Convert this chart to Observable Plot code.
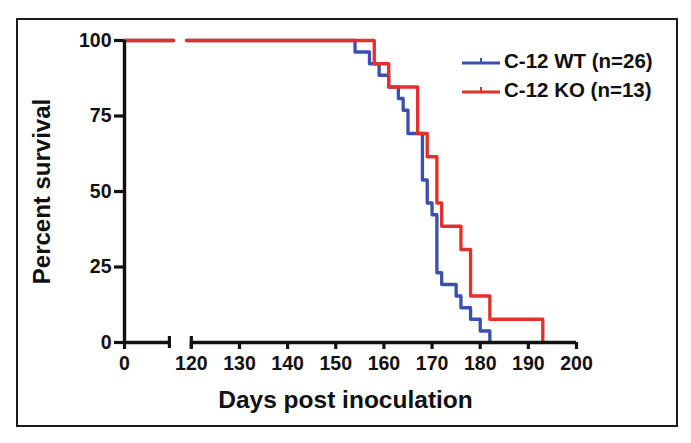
<!DOCTYPE html>
<html>
<head>
<meta charset="utf-8">
<script src="https://cdn.jsdelivr.net/npm/d3@7"></script>
<script src="https://cdn.jsdelivr.net/npm/@observablehq/plot@0.6"></script>
<style>
  html, body { margin: 0; padding: 0; background: #fff; }
  #wrap { position: relative; width: 691px; height: 443px; overflow: hidden; font-family: "Liberation Sans", Arial, sans-serif; }
  #frame { position: absolute; left: 16px; top: 18px; width: 658px; height: 405px; border: 2.8px solid #1c1c1c; pointer-events: none; }
  #legend { position: absolute; left: 462px; top: 46px; font-weight: bold; font-size: 20.5px; color: #111; line-height: 29px; }
  #legend .row { display: flex; align-items: center; white-space: nowrap; }
  #legend svg { margin-right: 2px; }
</style>
</head>
<body>
<div id="wrap">
  <div id="chart"></div>
  <div id="frame"></div>
  <div id="legend"></div>
</div>
<script>
// ---- data ----
const seriesNames = ["C-12 WT (n=26)", "C-12 KO (n=13)"];
const seriesColors = ["#3b4fae", "#e3302a"];
const wtDays = [154, 157, 159, 161, 163, 164, 165, 168, 169, 170, 171, 172, 175, 176, 178, 180, 182];
const wtSurv = [96.2, 92.3, 88.5, 84.6, 80.8, 76.9, 69.2, 53.8, 46.2, 42.3, 23.1, 19.2, 15.4, 11.5, 7.7, 3.8, 0];
const koDays = [158, 161, 167, 169, 171, 172, 176, 178, 182, 193];
const koSurv = [92.3, 84.6, 69.2, 61.5, 46.2, 38.5, 30.8, 15.4, 7.7, 0];
const yTicks = [0, 25, 50, 75, 100];
const xTicks = [0, 120, 130, 140, 150, 160, 170, 180, 190, 200];
const firstSegment = [0, 9.35];   // axis segment before the break
const secondSegment = [120, 200]; // axis segment after the break
const xDomain = [0, 10.2, 119, 200]; // piecewise (broken) axis

function kmRows(name, days, surv) {
  const rows = [
    {name, seg: "a", day: xDomain[0], surv: 100},
    {name, seg: "a", day: xDomain[1], surv: 100},
    {name, seg: "b", day: xDomain[2], surv: 100}
  ];
  days.forEach((d, i) => rows.push({name, seg: "b", day: d, surv: surv[i]}));
  return rows;
}
const wtRows = kmRows(seriesNames[0], wtDays, wtSurv);
const koRows = kmRows(seriesNames[1], koDays, koSurv);

const font = "Liberation Sans, Arial, sans-serif";
const W = 691, H = 443;
const mL = 124, mR = 115, mT = 40, mB = 101;

const chart = Plot.plot({
  width: W,
  height: H,
  marginLeft: mL,
  marginRight: mR,
  marginTop: mT,
  marginBottom: mB,
  style: {fontFamily: font, fontWeight: "bold", background: "transparent", color: "#111"},
  x: {type: "linear", domain: xDomain, range: [mL, mL + 49, mL + 62, W - mR]},
  y: {domain: [0, 100]},
  marks: [
    Plot.line(wtRows, {x: "day", y: "surv", z: "seg", curve: "step-after", stroke: seriesColors[0], strokeWidth: 3.3}),
    Plot.line(koRows, {x: "day", y: "surv", z: "seg", curve: "step-after", stroke: seriesColors[1], strokeWidth: 3.3}),
    // y axis
    Plot.ruleX([0], {y1: 0, y2: 100, stroke: "#111", strokeWidth: 3.4}),
    Plot.axisY({ticks: yTicks, tickSize: 10, tickPadding: 3, strokeWidth: 3.2, fontSize: 19.5, label: null}),
    // broken x axis
    Plot.ruleY([0], {x1: firstSegment[0], x2: firstSegment[1], stroke: "#111", strokeWidth: 3.4}),
    Plot.ruleY([0], {x1: secondSegment[0], x2: secondSegment[1], stroke: "#111", strokeWidth: 3.4}),
    Plot.ruleX([firstSegment[1], secondSegment[0]], {y1: 0, y2: 0, insetTop: -6, insetBottom: -6, stroke: "#111", strokeWidth: 3.2}),
    Plot.axisX({ticks: xTicks, tickSize: 7, tickPadding: 7, strokeWidth: 3.2, fontSize: 19.5, tickFormat: d => String(d), label: null}),
    // axis titles
    Plot.text(["Percent survival"], {frameAnchor: "left", dx: -82, rotate: -90, textAnchor: "middle", lineAnchor: "middle", fontSize: 24, fontWeight: "bold"}),
    Plot.text(["Days post inoculation"], {frameAnchor: "bottom", dx: -5, dy: 58, textAnchor: "middle", lineAnchor: "middle", fontSize: 24.5, fontWeight: "bold"})
  ]
});
document.getElementById("chart").appendChild(chart);

// legend
const legend = document.getElementById("legend");
seriesNames.forEach((name, i) => {
  const row = document.createElement("div");
  row.className = "row";
  row.innerHTML = `<svg width="40" height="14"><line x1="0" y1="9" x2="38" y2="9" stroke="${seriesColors[i]}" stroke-width="3"/><line x1="19" y1="4" x2="19" y2="9" stroke="${seriesColors[i]}" stroke-width="2"/></svg><span>${name}</span>`;
  legend.appendChild(row);
});
</script>
</body>
</html>
